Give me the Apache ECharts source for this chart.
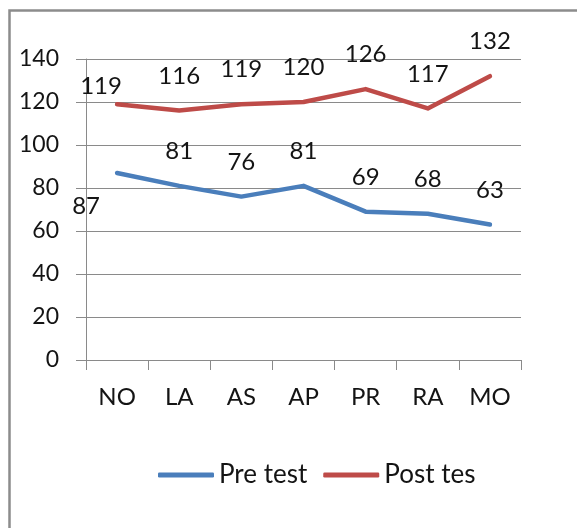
<!DOCTYPE html>
<html>
<head>
<meta charset="utf-8">
<script src="https://cdn.jsdelivr.net/npm/echarts@6/dist/echarts.min.js"></script>
<style>
html,body{margin:0;padding:0;background:#fff;}
#c{width:577px;height:528px;}
</style>
</head>
<body>
<div id="c"></div>
<script>
const categories = ['NO', 'LA', 'AS', 'AP', 'PR', 'RA', 'MO'];
const preTest = [87, 81, 76, 81, 69, 68, 63];
const postTest = [119, 116, 119, 120, 126, 117, 132];
const seriesNames = ['Pre test', 'Post tes'];
const yMin = 0, yMax = 140, yStep = 20;

const FONT = 'Lato';
const TXT = '#141414';
const GRID = '#8a8a8a';

function withFirstOffset(arr, off) {
  return arr.map((v, i) => i === 0 ? { value: v, label: { offset: off } } : v);
}

function lineSeries(name, data, color) {
  return {
    name: name, type: 'line',
    data: data,
    showSymbol: true, symbol: 'circle', symbolSize: 1,
    lineStyle: { color: color, width: 4.5, cap: 'round', join: 'round' },
    itemStyle: { color: color, opacity: 0 },
    label: { show: true, position: 'top', distance: 22, color: TXT, fontFamily: FONT, fontSize: 24, lineHeight: 24, opacity: 1 },
    emphasis: { disabled: true }
  };
}

const chart = echarts.init(document.getElementById('c'), null, { renderer: 'canvas' });
chart.setOption({
  animation: false,
  backgroundColor: '#fff',
  graphic: [{
    type: 'rect',
    shape: { x: 9.5, y: 10.5, width: 700, height: 700 },
    style: { fill: 'none', stroke: '#8c8c8c', lineWidth: 2.5 },
    silent: true
  }],
  grid: { left: 86, right: 56, top: 59, bottom: 168, containLabel: false },
  xAxis: {
    type: 'category',
    data: categories,
    boundaryGap: true,
    axisLine: { show: true, lineStyle: { color: GRID, width: 1 } },
    axisTick: { show: true, length: 10, inside: false, lineStyle: { color: GRID } },
    axisLabel: { color: TXT, fontFamily: FONT, fontSize: 24, margin: 25 },
    splitLine: { show: false }
  },
  yAxis: {
    type: 'value',
    min: yMin, max: yMax, interval: yStep,
    axisLine: { show: true, lineStyle: { color: GRID, width: 1 } },
    axisTick: { show: true, length: 10, lineStyle: { color: GRID } },
    axisLabel: { color: TXT, fontFamily: FONT, fontSize: 23, margin: 27 },
    splitLine: { show: true, lineStyle: { color: GRID, width: 1 } }
  },
  legend: {
    left: 153, top: 457,
    data: [
      { name: seriesNames[0], icon: 'roundRect', itemStyle: { color: '#4A7EBB', opacity: 1 } },
      { name: seriesNames[1], icon: 'roundRect', itemStyle: { color: '#BE4B48', opacity: 1 } }
    ],
    itemWidth: 56, itemHeight: 5,
    itemGap: 16,
    textStyle: { color: TXT, fontFamily: FONT, fontSize: 26 }
  },
  series: [
    lineSeries(seriesNames[0], withFirstOffset(preTest, [-31, 68]), '#4A7EBB'),
    lineSeries(seriesNames[1], withFirstOffset(postTest, [-16, 17]), '#BE4B48')
  ]
});
</script>
</body>
</html>
